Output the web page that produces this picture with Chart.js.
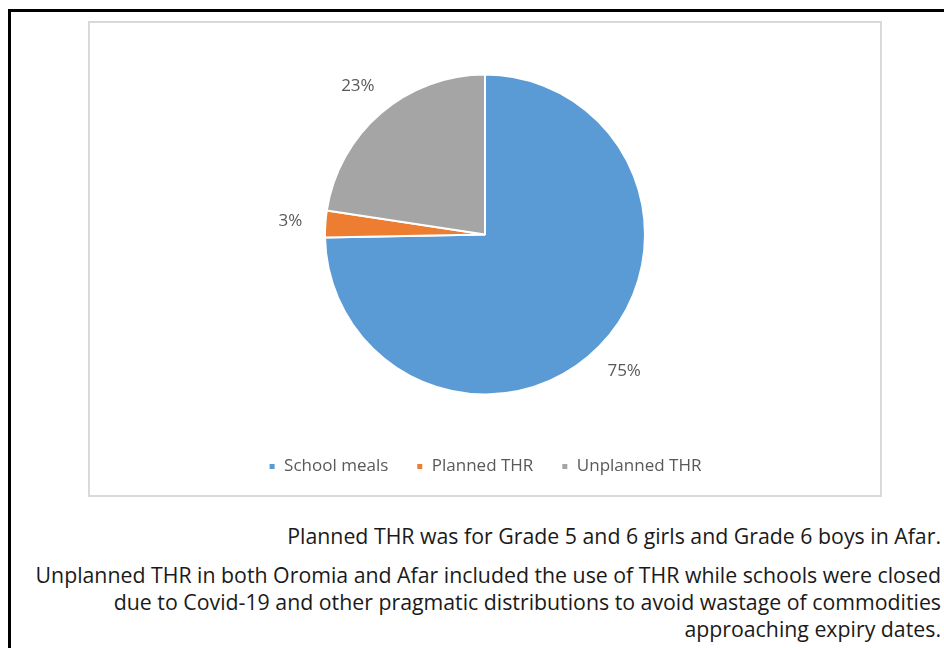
<!DOCTYPE html>
<html>
<head>
<meta charset="utf-8">
<script src="https://cdn.jsdelivr.net/npm/chart.js@4.4.0/dist/chart.umd.min.js"></script>
<style>
  body { margin: 0; background: #fff; font-family: "Open Sans", sans-serif; }
  .frame { position: absolute; left: 8px; top: 9px; width: 940px; height: 650px;
           border-left: 3px solid #000; border-top: 3px solid #000; }
  .box { position: absolute; left: 88px; top: 21px; width: 790px; height: 472px;
         border: 2px solid #d9d9d9; }
  .box canvas { display: block; }
  .note { position: absolute; right: 3px; width: 930px; text-align: right;
          font-size: 21.3px; color: #1a1a1a; line-height: 27px; white-space: nowrap; }
</style>
</head>
<body>
<div class="frame"></div>
<div class="box"><canvas id="pieChart" width="790" height="472"></canvas></div>
<div class="note" style="top:522px">Planned THR was for Grade 5 and 6 girls and Grade 6 boys in Afar.</div>
<div class="note" style="top:561px">Unplanned THR in both Oromia and Afar included the use of THR while schools were closed<br>due to Covid-19 and other pragmatic distributions to avoid wastage of commodities<br>approaching expiry dates.</div>
<script>
  const categories = ['School meals', 'Planned THR', 'Unplanned THR'];
  const shares = [74.7, 2.7, 22.6];
  const labels = ['75%', '3%', '23%'];
  const colors = ['#5B9BD5', '#ED7D31', '#A5A5A5'];

  // Function to draw percentage labels outside each slice
  const outsideLabels = {
    id: 'outsideLabels',
    afterDatasetsDraw(chart) {
      const ctx = chart.ctx;
      const meta = chart.getDatasetMeta(0);
      ctx.save();
      ctx.font = '17px "Open Sans"';
      ctx.fillStyle = '#595959';
      ctx.textAlign = 'center';
      ctx.textBaseline = 'middle';
      meta.data.forEach((arc, i) => {
        const mid = (arc.startAngle + arc.endAngle) / 2;
        const r = arc.outerRadius + 35;
        ctx.fillText(labels[i], arc.x + Math.cos(mid) * r, arc.y + Math.sin(mid) * r);
      });
      ctx.restore();
    }
  };

  new Chart(document.getElementById('pieChart'), {
    type: 'pie',
    data: {
      labels: categories,
      datasets: [{
        data: shares,
        backgroundColor: colors,
        borderColor: '#ffffff',
        borderWidth: 2
      }]
    },
    options: {
      responsive: false,
      animation: false,
      radius: 160,
      layout: { padding: { top: 16, bottom: 10 } },
      plugins: {
        legend: {
          position: 'bottom',
          labels: {
            font: { family: 'Open Sans', size: 17 },
            color: '#595959',
            boxWidth: 7,
            boxHeight: 7,
            padding: 28
          }
        },
        tooltip: { enabled: false }
      }
    },
    plugins: [outsideLabels]
  });
</script>
</body>
</html>
